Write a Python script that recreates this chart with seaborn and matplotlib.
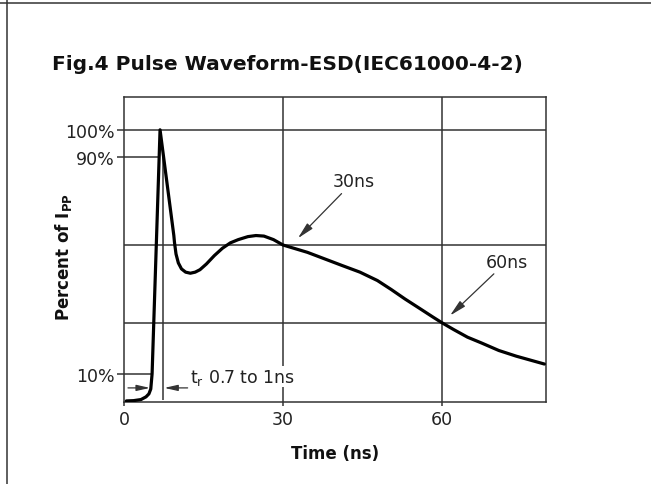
import matplotlib
matplotlib.use("Agg")
import matplotlib.pyplot as plt
from matplotlib.lines import Line2D
import seaborn as sns

# ESD pulse: time (ns) and percent of Ipp
time_ns = [0.45, 1.8, 3.2, 4.15, 4.7, 5.05, 5.3, 6.8, 9.4, 9.52, 9.81, 10.25, 10.84,
           11.62, 12.52, 13.43, 14.33, 15.54, 17.04, 18.56, 20.06, 21.56, 23.37,
           24.89, 26.39, 28.19, 30.0, 34.6, 41.2, 44.5, 47.8, 50.4, 53.0, 55.7,
           58.3, 60.0, 62.2, 64.8, 67.4, 70.7, 74.0, 79.3]
percent = [0.0, 0.1, 0.5, 1.5, 2.6, 4.4, 10.0, 100.0, 61.0, 58.5, 54.2, 50.9, 48.7,
           47.5, 47.1, 47.5, 48.4, 50.5, 53.6, 56.3, 58.3, 59.5, 60.6,
           61.0, 60.8, 59.5, 57.5, 54.8, 49.9, 47.5, 44.4, 41.1, 37.6, 34.2,
           30.9, 28.8, 26.3, 23.5, 21.4, 18.6, 16.5, 13.6]

x_ticks = [0, 30, 60]
y_ticks = [10, 90, 100]
y_tick_labels = ["10%", "90%", "100%"]
grid_x = [30, 60]
grid_y = [100, 57.5, 28.8]

# rise time markers
t10, t90_line = 5.3, 7.4

sns.set_style("white")
plt.rcParams["font.family"] = ["DejaVu Sans"]
ink = "#333333"

fig = plt.figure(figsize=(6.51, 4.85), dpi=100)
ax = fig.add_axes([124 / 651, 1 - 403 / 485, 422 / 651, 305 / 485])

for gx in grid_x:
    ax.axvline(gx, color=ink, lw=1.1, zorder=1)
for gy in grid_y:
    ax.axhline(gy, color=ink, lw=1.1, zorder=1)

# 10% / 90% reference lines and rise-time marker
ax.hlines(90, 0, 6.7, color=ink, lw=1.1)
ax.hlines(10, 0, t10, color=ink, lw=1.1)
ax.vlines(t90_line, 0.5, 90, color=ink, lw=1.1)

sns.lineplot(x=time_ns, y=percent, sort=False, color="black", lw=2.3, ax=ax, zorder=3)

ax.set_xlim(0, 79.6)
ax.set_ylim(-0.4, 112.1)
ax.set_xticks(x_ticks)
ax.set_xticklabels([str(v) for v in x_ticks])
ax.set_yticks(y_ticks)
ax.set_yticklabels(y_tick_labels)
ax.tick_params(axis="y", direction="out", length=5, width=1.1, color=ink,
               pad=2, labelsize=12.5, labelcolor="#222222", left=True)
ax.tick_params(axis="x", direction="out", length=3, width=1.1, color=ink,
               pad=3, labelsize=12.5, labelcolor="#222222", bottom=True)
for s in ax.spines.values():
    s.set_color(ink)
    s.set_linewidth(1.1)

arrow = dict(arrowstyle="-|>,head_length=0.8,head_width=0.18", color=ink, lw=0.9,
             shrinkA=0, shrinkB=0)
ax.annotate("", xy=(4.9, 4.8), xytext=(0.75, 4.8), arrowprops=arrow)
ax.annotate("", xy=(7.6, 4.8), xytext=(12.0, 4.8), arrowprops=arrow)
ax.text(12.4, 8.9, r"t$_\mathrm{r}$ 0.7 to 1ns", fontsize=12.5, color="#222222",
        ha="left", va="center", zorder=4,
        bbox=dict(facecolor="white", edgecolor="none", pad=0.5))

ax.annotate("30ns", xy=(32.8, 60.0), xytext=(43.3, 81.0), fontsize=12.5,
            color="#222222", ha="center", va="center", arrowprops=arrow)
ax.annotate("60ns", xy=(61.5, 31.5), xytext=(72.2, 51.4), fontsize=12.5,
            color="#222222", ha="center", va="center", arrowprops=arrow)

fig.text(52 / 651, 1 - 64 / 485, "Fig.4 Pulse Waveform-ESD(IEC61000-4-2)",
         fontsize=14.5, fontweight="bold", ha="left", va="center", color="#111111")
fig.text(63 / 651, 1 - 257 / 485, r"Percent of I$_{\mathbf{PP}}$", rotation=90,
         fontsize=12, fontweight="bold", ha="center", va="center", color="#111111")
fig.text(335 / 651, 1 - 454 / 485, "Time (ns)", fontsize=12, fontweight="bold",
         ha="center", va="center", color="#111111")

# page frame lines
fig.add_artist(Line2D([0, 1], [1 - 3.5 / 485] * 2, color=ink, lw=1.1))
fig.add_artist(Line2D([6.5 / 651] * 2, [0, 1], color=ink, lw=1.1))

fig.savefig("out.png", dpi=100, facecolor="white")
